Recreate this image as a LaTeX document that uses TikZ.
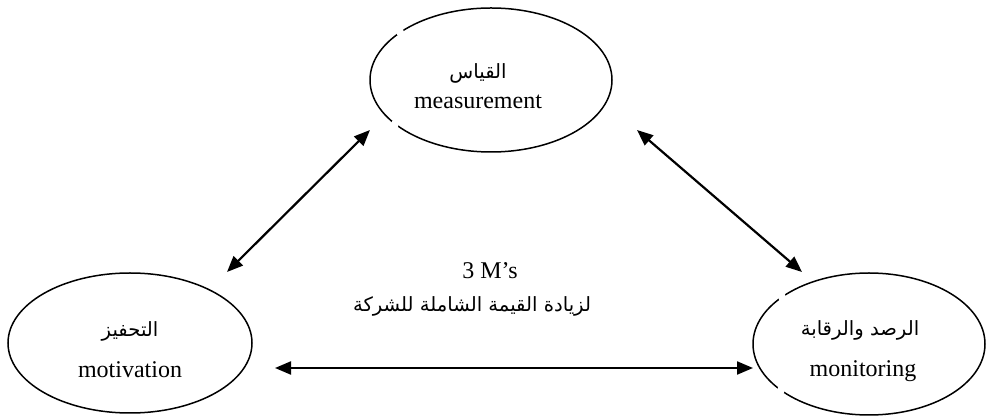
\documentclass[tikz,border=0pt]{standalone}
\usepackage{fontspec}
\setmainfont{Liberation Serif}
\newfontfamily\arabicfont[Script=Arabic]{DejaVu Sans}
\TeXXeTstate=1
\usetikzlibrary{shapes.geometric,arrows.meta}
\begin{document}
\begin{tikzpicture}[x=0.5pt,y=-0.5pt,
  oval/.style={draw,ellipse,line width=0.75pt,inner sep=0pt},
  lat/.style={font=\fontsize{12}{14}\selectfont,inner sep=0pt,anchor=base},
  arb/.style={font=\arabicfont\fontsize{9.8}{12}\selectfont,inner sep=0pt,anchor=base},
  gap/.style={white},
  biarrow/.style={line width=1.1pt,{Triangle[length=8pt,width=6.5pt]}-{Triangle[length=8pt,width=6.5pt]}}]
\useasboundingbox (0,0) rectangle (986,416);
% ellipses
\node[oval,minimum width=121pt,minimum height=72pt] (top) at (491,80) {};
\node[oval,minimum width=122pt,minimum height=70pt] (left) at (130,343) {};
\node[oval,minimum width=116pt,minimum height=71pt] (right) at (869,344) {};
% small breaks in outlines
\fill[gap] (400,32) circle[radius=2pt];
\fill[gap] (395,124) circle[radius=2pt];
\fill[gap] (782,297) circle[radius=2pt];
\fill[gap] (781,390) circle[radius=2pt];
% texts
\node[arb] (topar) at (478,79) {\beginR القياس\endR};
\node[lat] (topen) at (478,109) {measurement};
\node[arb] (leftar) at (130,337) {\beginR التحفيز\endR};
\node[lat] (leften) at (130,378) {motivation};
\node[arb] (rightar) at (860,336) {\beginR الرصد والرقابة\endR};
\node[lat] (righten) at (863,377) {monitoring};
\node[lat] (ms) at (490,279) {3 M’s};
\node[arb] (goal) at (472,312) {\beginR لزيادة القيمة الشاملة للشركة\endR};
% arrow ends
\coordinate (a1) at (227,272);
\coordinate (a2) at (370,130);
\coordinate (b1) at (637,130);
\coordinate (b2) at (802,272);
\coordinate (c1) at (275,368);
\coordinate (c2) at (753,368);
\draw[biarrow] (a1) -- (a2);
\draw[biarrow] (b1) -- (b2);
\draw[biarrow] (c1) -- (c2);
\end{tikzpicture}
\end{document}
